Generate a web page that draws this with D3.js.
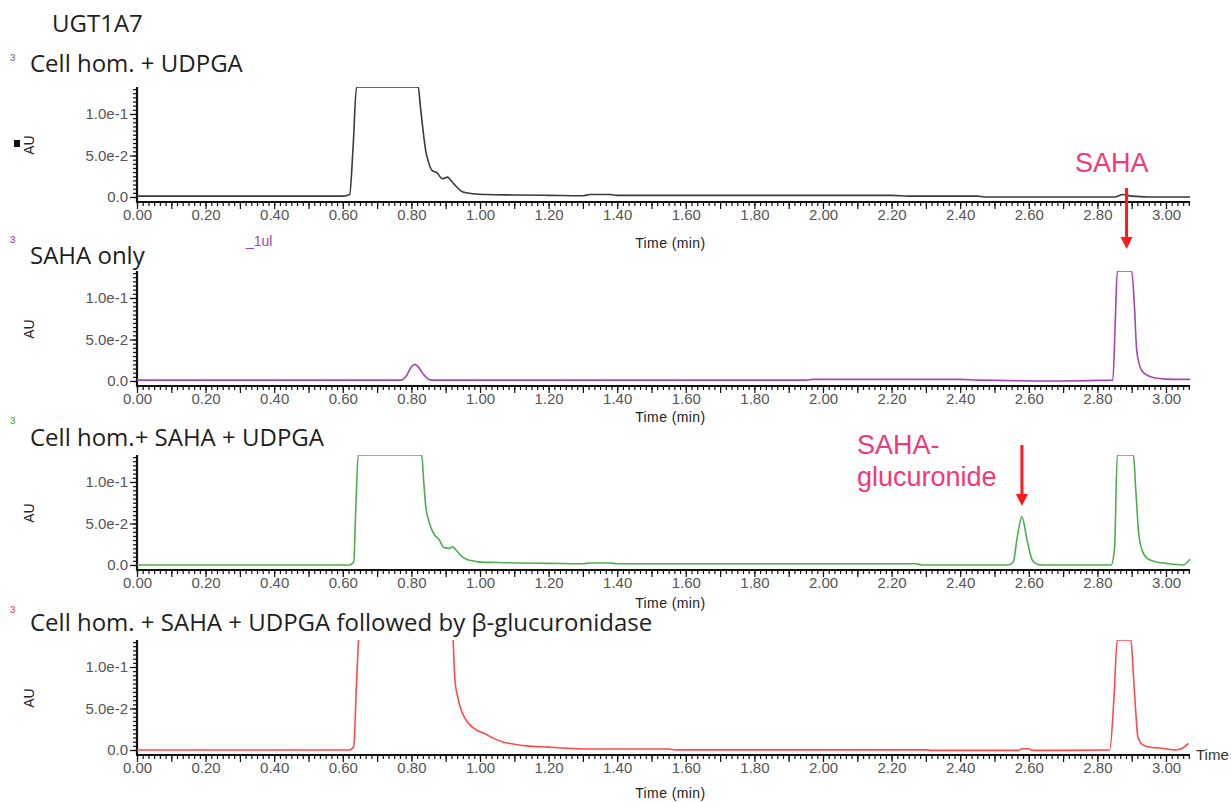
<!DOCTYPE html>
<html>
<head>
<meta charset="utf-8">
<script src="https://cdn.jsdelivr.net/npm/d3@7"></script>
<style>
  body { margin: 0; background: #fff; }
  svg { display: block; }
  .tick text { font-family: "Liberation Sans", Arial, sans-serif; font-size: 15px; fill: #555; }
  .tick line { stroke: #111; stroke-width: 1.2; }
  .domain { display: none; }
  .title { font-family: "Open Sans", sans-serif; font-size: 24px; fill: #1e1e1e; }
  .axisText { font-family: "Liberation Sans", Arial, sans-serif; font-size: 14px; fill: #222; }
  .note { font-family: "Liberation Sans", Arial, sans-serif; font-size: 27px; fill: #f2387a; }
</style>
</head>
<body>
<div id="chart"></div>
<script>
// panel titles and colours
var titles = ["Cell hom. + UDPGA", "SAHA only", "Cell hom.+ SAHA + UDPGA",
  "Cell hom. + SAHA + UDPGA followed by \u03b2-glucuronidase"];
var colors = ["#3a3a3a", "#a445b4", "#4eae4e", "#ff4a4a"];

// tick labels
var xLabels = [0, 0.2, 0.4, 0.6, 0.8, 1.0, 1.2, 1.4, 1.6, 1.8, 2.0, 2.2, 2.4, 2.6, 2.8, 3.0];
var yLabels = [0, 0.05, 0.1];

// traces (time in min, absorbance in AU)
var timeA = [0, 0.6, 0.62, 0.63, 0.64, 0.82, 0.826, 0.834, 0.842, 0.85, 0.86, 0.875, 0.89, 0.905, 0.915, 0.93, 0.95, 0.98, 1.02, 1.1, 1.2, 1.3, 1.32, 1.38, 1.4, 1.6, 1.8, 2.0, 2.2, 2.25, 2.45, 2.47, 2.6, 2.8, 2.85, 2.875, 2.9, 2.95, 3.07];
var auA = [0.001, 0.001, 0.003, 0.06, 0.1325, 0.1325, 0.11, 0.08, 0.055, 0.042, 0.032, 0.029, 0.022, 0.024, 0.02, 0.013, 0.006, 0.004, 0.003, 0.0025, 0.002, 0.0015, 0.003, 0.003, 0.002, 0.002, 0.002, 0.002, 0.002, 0.001, 0.001, 0, 0, 0, 0, 0.003, 0.001, 0, 0];

var timeB = [0, 0.77, 0.785, 0.8, 0.81, 0.82, 0.835, 0.85, 0.86, 1.5, 1.95, 1.97, 2.4, 2.45, 2.7, 2.845, 2.852, 2.858, 2.9, 2.908, 2.915, 2.93, 2.95, 2.98, 3.02, 3.07];
var auB = [0.001, 0.001, 0.006, 0.017, 0.02, 0.017, 0.008, 0.002, 0.001, 0.001, 0.001, 0.002, 0.002, 0.001, 0, 0.001, 0.07, 0.1325, 0.1325, 0.09, 0.035, 0.012, 0.006, 0.003, 0.002, 0.002];

var timeC = [0, 0.62, 0.632, 0.638, 0.645, 0.83, 0.836, 0.842, 0.85, 0.86, 0.87, 0.88, 0.895, 0.91, 0.92, 0.93, 0.945, 0.96, 0.98, 1.0, 1.05, 1.1, 1.2, 1.3, 1.32, 1.38, 1.4, 2.0, 2.27, 2.29, 2.54, 2.555, 2.565, 2.58, 2.595, 2.61, 2.625, 2.64, 2.84, 2.85, 2.858, 2.905, 2.912, 2.92, 2.93, 2.945, 2.97, 3.0, 3.05, 3.07];
var auC = [0, 0, 0.004, 0.07, 0.1325, 0.1325, 0.1, 0.07, 0.054, 0.042, 0.035, 0.031, 0.021, 0.02, 0.022, 0.018, 0.011, 0.007, 0.005, 0.0035, 0.003, 0.0025, 0.002, 0.0015, 0.0025, 0.0025, 0.0015, 0.0015, 0.0015, 0, 0, 0.004, 0.03, 0.058, 0.03, 0.006, 0.001, 0, 0, 0.02, 0.1325, 0.1325, 0.09, 0.04, 0.018, 0.008, 0.004, 0.002, 0, 0.007];

var timeD = [0, 0.62, 0.632, 0.64, 0.65, 0.7, 0.9, 0.921, 0.927, 0.935, 0.942, 0.955, 0.971, 0.99, 1.01, 1.04, 1.067, 1.1, 1.137, 1.2, 1.242, 1.31, 1.4, 1.55, 1.57, 2.3, 2.32, 2.57, 2.58, 2.6, 2.61, 2.836, 2.848, 2.858, 2.898, 2.905, 2.912, 2.918, 2.933, 2.96, 2.982, 3.03, 3.055, 3.065];
var auD = [0, 0, 0.005, 0.08, 0.16, 0.25, 0.25, 0.14, 0.084, 0.064, 0.052, 0.039, 0.03, 0.024, 0.0205, 0.014, 0.0096, 0.007, 0.005, 0.0035, 0.0024, 0.0012, 0.0012, 0.0012, 0.0002, 0.0002, -0.0005, -0.0005, 0.0015, 0.0015, -0.0005, 0, 0.06, 0.1325, 0.1325, 0.09, 0.045, 0.016, 0.006, 0.003, 0.0024, 0, 0.004, 0.008];

var times = [timeA, timeB, timeC, timeD];
var values = [auA, auB, auC, auD];

//svg container
var svgWidth = 1231;
var svgHeight = 803;

// zero line of each panel
var zeroY = [197, 381, 565, 750];
var titleY = [72, 264, 446, 631];
var markY = [61, 243, 424, 613];
var timeLabelY = [248, 422, 608, 798];

var xScale = d3.scaleLinear()
    .domain([0, 3.07])
    .range([137, 1190]);

var svg = d3.select('#chart').append('svg')
    .attr('width', svgWidth)
    .attr('height', svgHeight);

var defs = svg.append('defs');

svg.append('text')
    .attr('class', 'title')
    .attr('x', 52)
    .attr('y', 32)
    .text('UGT1A7');

var line = d3.line().curve(d3.curveMonotoneX);

zeroY.forEach(function(z, i) {
    var top = z - 110;
    var yScale = d3.scaleLinear()
        .domain([0, 0.1325])
        .range([z, top]);
    var axisY = yScale(-0.006);

    var g = svg.append('g');

    // title and little marker
    g.append('text')
        .attr('class', 'title')
        .attr('x', 30)
        .attr('y', titleY[i])
        .text(titles[i]);
    g.append('text')
        .attr('x', 10)
        .attr('y', markY[i])
        .attr('font-family', 'Liberation Sans, Arial, sans-serif')
        .attr('font-size', 12)
        .attr('fill', i === 0 ? '#777' : colors[i])
        .text('\u025c');

    // y ticks
    g.append('g')
        .attr('transform', 'translate(137,0)')
        .call(d3.axisLeft(yScale).tickValues(d3.range(0, 0.1326, 0.005)).tickSize(4).tickFormat(''));
    g.append('g')
        .attr('transform', 'translate(137,0)')
        .call(d3.axisLeft(yScale).tickValues(yLabels).tickSize(7).tickPadding(2)
            .tickFormat(function(d) { return d === 0 ? '0.0' : d3.format('.1e')(d); }));

    // x ticks
    g.append('g')
        .attr('transform', 'translate(0,' + axisY + ')')
        .call(d3.axisBottom(xScale).tickValues(d3.range(0, 3.07, 1 / 60)).tickSize(4).tickFormat(''));
    g.append('g')
        .attr('transform', 'translate(0,' + axisY + ')')
        .call(d3.axisBottom(xScale).tickValues(d3.range(0, 3.06, 0.1)).tickSize(7).tickFormat(''));
    g.append('g')
        .attr('transform', 'translate(0,' + axisY + ')')
        .call(d3.axisBottom(xScale).tickValues(xLabels).tickSize(0).tickPadding(7).tickFormat(d3.format('.2f')));

    // axis lines
    g.append('line')
        .attr('x1', 137).attr('x2', 137)
        .attr('y1', top).attr('y2', axisY)
        .attr('stroke', '#111').attr('stroke-width', 2.2);
    g.append('line')
        .attr('x1', 136).attr('x2', xScale(3.07))
        .attr('y1', axisY).attr('y2', axisY)
        .attr('stroke', '#111').attr('stroke-width', 2.2);

    // AU label
    g.append('text')
        .attr('class', 'axisText')
        .attr('transform', 'translate(34,' + (z - 52) + ') rotate(-90)')
        .attr('text-anchor', 'middle')
        .attr('font-size', 15)
        .attr('fill', '#333')
        .text('AU');

    g.append('text')
        .attr('class', 'axisText')
        .attr('x', xScale(1.555))
        .attr('y', timeLabelY[i])
        .attr('text-anchor', 'middle')
        .attr('letter-spacing', 0.4)
        .attr('font-size', i === 3 ? 13 : 14)
        .text('Time (min)');

    // trace, clipped at the top of the axis
    defs.append('clipPath').attr('id', 'clip' + i)
        .append('rect')
        .attr('x', 137).attr('y', top)
        .attr('width', 1060).attr('height', axisY - top);

    var pts = times[i].map(function(t, k) { return [xScale(t), yScale(values[i][k])]; });
    g.append('path')
        .attr('d', line(pts))
        .attr('clip-path', 'url(#clip' + i + ')')
        .attr('fill', 'none')
        .attr('stroke', colors[i])
        .attr('stroke-width', 1.6);
});

// black marker near first AU label
svg.append('rect').attr('x', 14).attr('y', 140).attr('width', 6).attr('height', 7).attr('fill', '#111');

// small purple label
svg.append('text')
    .attr('x', 246).attr('y', 246)
    .attr('font-family', 'Liberation Sans, Arial, sans-serif')
    .attr('font-size', 14)
    .attr('fill', '#a445b4')
    .text('_1ul');

// right-hand axis title on the last panel
svg.append('text')
    .attr('x', 1196).attr('y', 760)
    .attr('font-family', 'Liberation Sans, Arial, sans-serif')
    .attr('font-size', 15)
    .attr('fill', '#333')
    .text('Time');

// annotations
function arrow(x, y1, y2) {
    svg.append('line')
        .attr('x1', x).attr('x2', x)
        .attr('y1', y1).attr('y2', y2 - 10)
        .attr('stroke', '#ff1a1a').attr('stroke-width', 3);
    svg.append('path')
        .attr('d', 'M' + (x - 6) + ',' + (y2 - 12) + 'L' + (x + 6) + ',' + (y2 - 12) + 'L' + x + ',' + y2 + 'Z')
        .attr('fill', '#ff1a1a');
}

svg.append('text').attr('class', 'note').attr('x', 1075).attr('y', 172).attr('font-size', 26).text('SAHA');
arrow(xScale(2.885), 188, 249);

var gluc = svg.append('text').attr('class', 'note');
gluc.append('tspan').attr('x', 857).attr('y', 454).text('SAHA-');
gluc.append('tspan').attr('x', 857).attr('y', 486).text('glucuronide');
arrow(xScale(2.58), 445, 506);
</script>
</body>
</html>
